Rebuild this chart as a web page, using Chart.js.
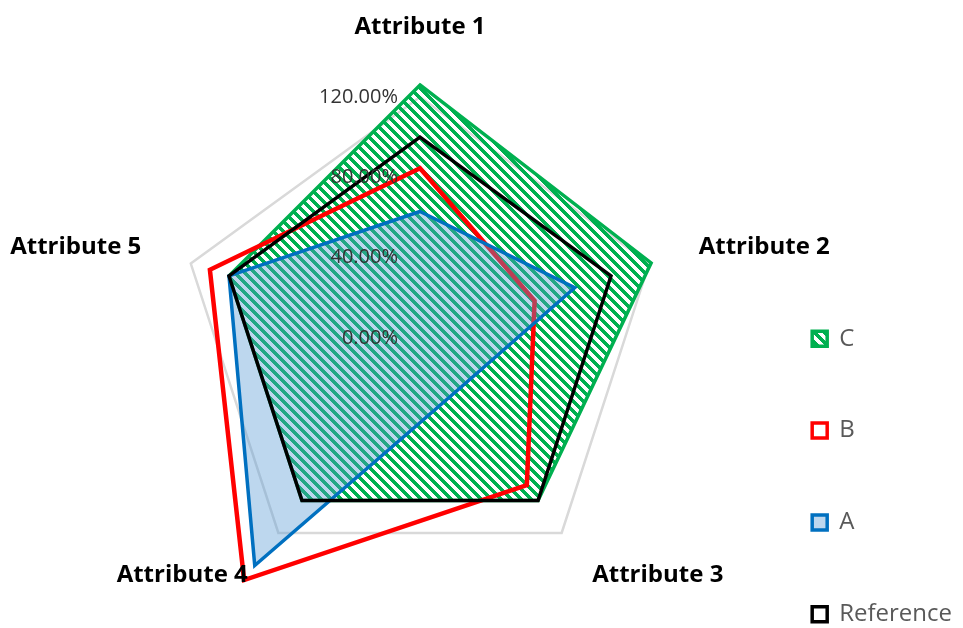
<!DOCTYPE html>
<html><head><meta charset="utf-8">
<script src="https://cdn.jsdelivr.net/npm/chart.js@4.4.0/dist/chart.umd.min.js"></script>
<style>html,body{margin:0;padding:0;background:#fff;} #wrap{width:963px;height:628px;position:relative;}</style>
</head><body><div id="wrap"><canvas id="c"></canvas></div>
<script>
const categories = ['Attribute 1', 'Attribute 2', 'Attribute 3', 'Attribute 4', 'Attribute 5'];
const seriesNames = ['C', 'B', 'A', 'Reference'];
const seriesC = [126, 121, 100, 100, 100];
const seriesB = [84.5, 60, 90.5, 149, 110];
const seriesA = [63, 81, 32, 140, 100];
const seriesRef = [100, 100, 100, 100, 100];
const tickValues = [0, 40, 80, 120];
const tickLabels = ['0.00%', '40.00%', '80.00%', '120.00%'];

const canvas = document.getElementById('c');
const mainCtx = canvas.getContext('2d');
function makeHatch(color, period, band) {
  const t = document.createElement('canvas');
  t.width = period; t.height = period;
  const g = t.getContext('2d');
  g.fillStyle = color;
  for (let y = 0; y < period; y++) for (let x = 0; x < period; x++) {
    if ((((x - y) % period) + period) % period < band) g.fillRect(x, y, 1, 1);
  }
  return mainCtx.createPattern(t, 'repeat');
}
const hatch = makeHatch('#00B050', 10, 5);

Chart.defaults.font.family = "'Open Sans', sans-serif";

const textPlugin = {
  id: 'radarText',
  afterDatasetsDraw(chart) {
    const s = chart.scales.r;
    const ctx = chart.ctx;
    ctx.save();
    ctx.font = "20px 'Open Sans'";
    ctx.fillStyle = '#333333';
    ctx.textAlign = 'right';
    ctx.textBaseline = 'middle';
    s.ticks.forEach((t) => {
      const d = s.getDistanceFromCenterForValue(t.value);
      const idx = tickValues.indexOf(t.value);
      ctx.fillText(idx >= 0 ? tickLabels[idx] : t.label, s.xCenter - 22, s.yCenter - d);
    });
    ctx.font = "bold 24px 'Open Sans'";
    ctx.fillStyle = '#000000';
    categories.forEach((lab, i) => {
      const p = s.getPointPosition(i, s.drawingArea + (i === 0 ? 70 : 52));
      const dx = p.x - s.xCenter;
      ctx.textAlign = Math.abs(dx) < 1 ? 'center' : (dx > 0 ? 'left' : 'right');
      ctx.fillText(lab, p.x, p.y);
    });
    ctx.restore();
  }
};

new Chart(canvas, {
  type: 'radar',
  data: {
    labels: categories,
    datasets: [
      { label: seriesNames[0], data: seriesC, order: 3, backgroundColor: hatch, borderColor: '#00B050', borderWidth: 3.5, fill: true },
      { label: seriesNames[1], data: seriesB, order: 2, backgroundColor: '#ffffff', borderColor: '#FF0000', borderWidth: 4.5, fill: false },
      { label: seriesNames[2], data: seriesA, order: 1, backgroundColor: 'rgba(91,155,213,0.4)', borderColor: '#0070C0', borderWidth: 3.5, fill: true },
      { label: seriesNames[3], data: seriesRef, order: 0, backgroundColor: '#ffffff', borderColor: '#000000', borderWidth: 3.5, fill: false }
    ]
  },
  options: {
    responsive: true,
    maintainAspectRatio: false,
    animation: false,
    events: [],
    layout: { padding: { top: 0, left: 0, right: 1, bottom: -66 } },
    elements: {
      line: { tension: 0, borderJoinStyle: 'miter' },
      point: { radius: 0, hoverRadius: 0 }
    },
    datasets: { radar: { clip: false } },
    scales: {
      r: {
        min: 0, max: 120,
        ticks: { stepSize: 40, display: false },
        grid: {
          color: (c) => (c.tick && c.tick.value === 120) ? '#D9D9D9' : 'rgba(0,0,0,0)',
          lineWidth: 2.5
        },
        angleLines: { display: false },
        pointLabels: { display: false },
        afterFit: (s) => { s.xCenter = 420; s.yCenter = 338; s.drawingArea = 241; }
      }
    },
    plugins: {
      tooltip: { enabled: false },
      legend: {
        position: 'right',
        align: 'end',
        reverse: true,
        labels: {
          font: { family: "'Open Sans'", size: 24 },
          color: '#595959',
          boxWidth: 15,
          boxHeight: 15,
          padding: 67.8,
          generateLabels: (chart) => Chart.defaults.plugins.legend.labels.generateLabels(chart).map(it => Object.assign(it, { lineWidth: 3.5 }))
        }
      }
    }
  },
  plugins: [textPlugin]
});
</script>
</body></html>
